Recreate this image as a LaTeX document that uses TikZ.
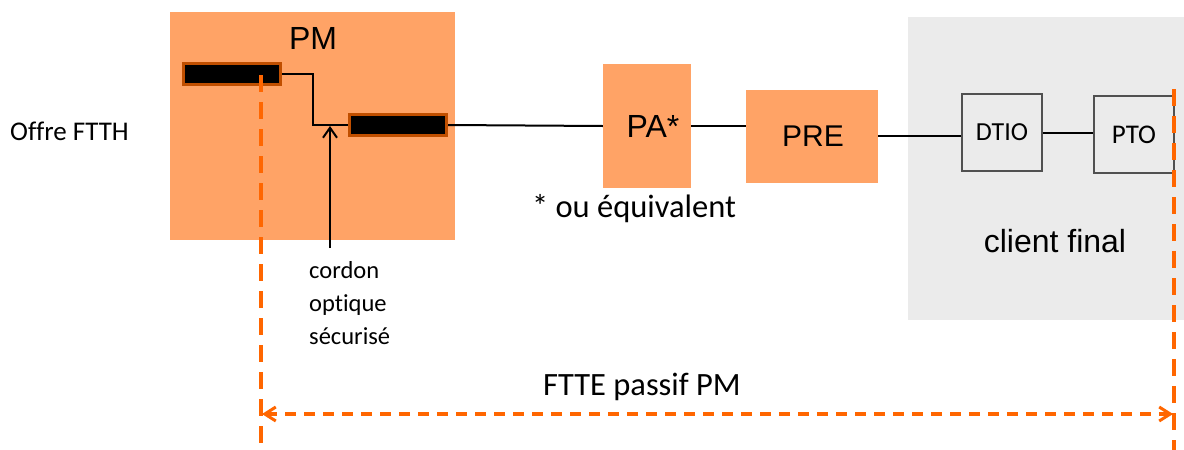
\documentclass[tikz,border=0pt]{standalone}
\usepackage{fontspec}
\setmainfont{Liberation Sans}
\newfontfamily\carl[Ligatures=NoCommon]{Carlito}
\usetikzlibrary{arrows.meta}
\definecolor{pmorange}{HTML}{FFA366}
\definecolor{barborder}{HTML}{C04F00}
\definecolor{dashorange}{HTML}{FF6600}
\definecolor{clientgray}{HTML}{EBEBEB}
\definecolor{boxgray}{HTML}{505050}
\begin{document}
\begin{tikzpicture}[x=1pt,y=-1pt,
  orangebox/.style={fill=pmorange,draw=none,inner sep=0pt},
  fiberbar/.style={fill=black,draw=barborder,line width=3pt,minimum width=97pt,minimum height=21pt,inner sep=0pt},
  clientbox/.style={draw=boxgray,line width=2.5pt,minimum width=80pt,minimum height=77pt,inner sep=0pt,font=\carl\fontsize{26}{30}\selectfont},
  wire/.style={line width=2pt,black},
  thinwire/.style={line width=1.2pt,black},
  orangedash/.style={draw=dashorange,line width=3.5pt,dash pattern=on 17pt off 10pt},
  measure/.style={draw=dashorange,line width=3.5pt,dash pattern=on 11pt off 8pt,{Straight Barb[length=11pt,width=14pt,line width=3pt]}-{Straight Barb[length=11pt,width=14pt,line width=3pt]}},
  txtc/.style={inner sep=0pt,font=\carl\fontsize{27}{32}\selectfont},
  txta/.style={inner sep=0pt,font=\fontsize{32}{36}\selectfont}
]
\useasboundingbox (0,0) rectangle (1184,450);
% client area
\node[fill=clientgray,draw=none,minimum width=276pt,minimum height=303pt,inner sep=0pt] (client) at (1046,168.5) {};
\node[txta] (clientlbl) at (1055,241) {client final};
% PM
\node[orangebox,minimum width=285pt,minimum height=228pt] (pm) at (312.5,126) {};
\node[txta] (pmlbl) at (313,38) {PM};
\node[fiberbar] (lbar) at (232,74) {};
\node[fiberbar] (rbar) at (398,125) {};
\coordinate (bend) at (313,74);
\draw[thinwire] (lbar.east) -- (bend) |- (rbar.west);
% cordon arrow
\coordinate (cordtail) at (330,248);
\coordinate (cordtip) at (330,126);
\draw[wire,-{Straight Barb[length=10pt,width=14pt]}] (cordtail) -- (cordtip);
\node[txtc,anchor=north west,align=left,font=\carl\fontsize{24.5}{33}\selectfont] (cordlbl) at (309,261) {cordon\\optique\\sécurisé};
% PA, PRE
\node[orangebox,minimum width=88pt,minimum height=124pt] (pa) at (647,126) {};
\node[txta] (palbl) at (653,126) {PA*};
\node[orangebox,minimum width=132pt,minimum height=93pt] (pre) at (812,136) {};
\node[txta,font=\fontsize{30}{34}\selectfont] (prelbl) at (813,136) {PRE};
\node[txtc,font=\carl\fontsize{32.5}{38}\selectfont] (eqlbl) at (634,209) {* ou équivalent};
% client boxes
\node[clientbox] (dtio) at (1002,132.5) {DTIO};
\node[clientbox,font=\carl\fontsize{27}{30}\selectfont] (pto) at (1134,134.5) {PTO};
% wires
\draw[wire] (rbar.east) -- (pa.west);
\draw[wire] (pa.east) -- (pa.east -| pre.west);
\draw[wire] (pre.east) -- (pre.east -| dtio.west);
\draw[wire] (dtio.east) -- (dtio.east -| pto.west);
% Offre label
\node[txtc,anchor=west] (offre) at (10,131) {Offre FTTH};
% dashed measure lines
\coordinate (ltop) at (261,75);
\coordinate (lbot) at (261,450);
\coordinate (rtop) at (1174,89);
\coordinate (rbot) at (1174,450);
\coordinate (aleft) at (262,414);
\coordinate (aright) at (1173,414);
\draw[orangedash] (ltop) -- (lbot);
\draw[orangedash] (rtop) -- (rbot);
\draw[measure] (aleft) -- (aright);
\node[txtc,font=\carl\fontsize{32.5}{38}\selectfont] (ftte) at (642,387) {FTTE passif PM};
\end{tikzpicture}
\end{document}
